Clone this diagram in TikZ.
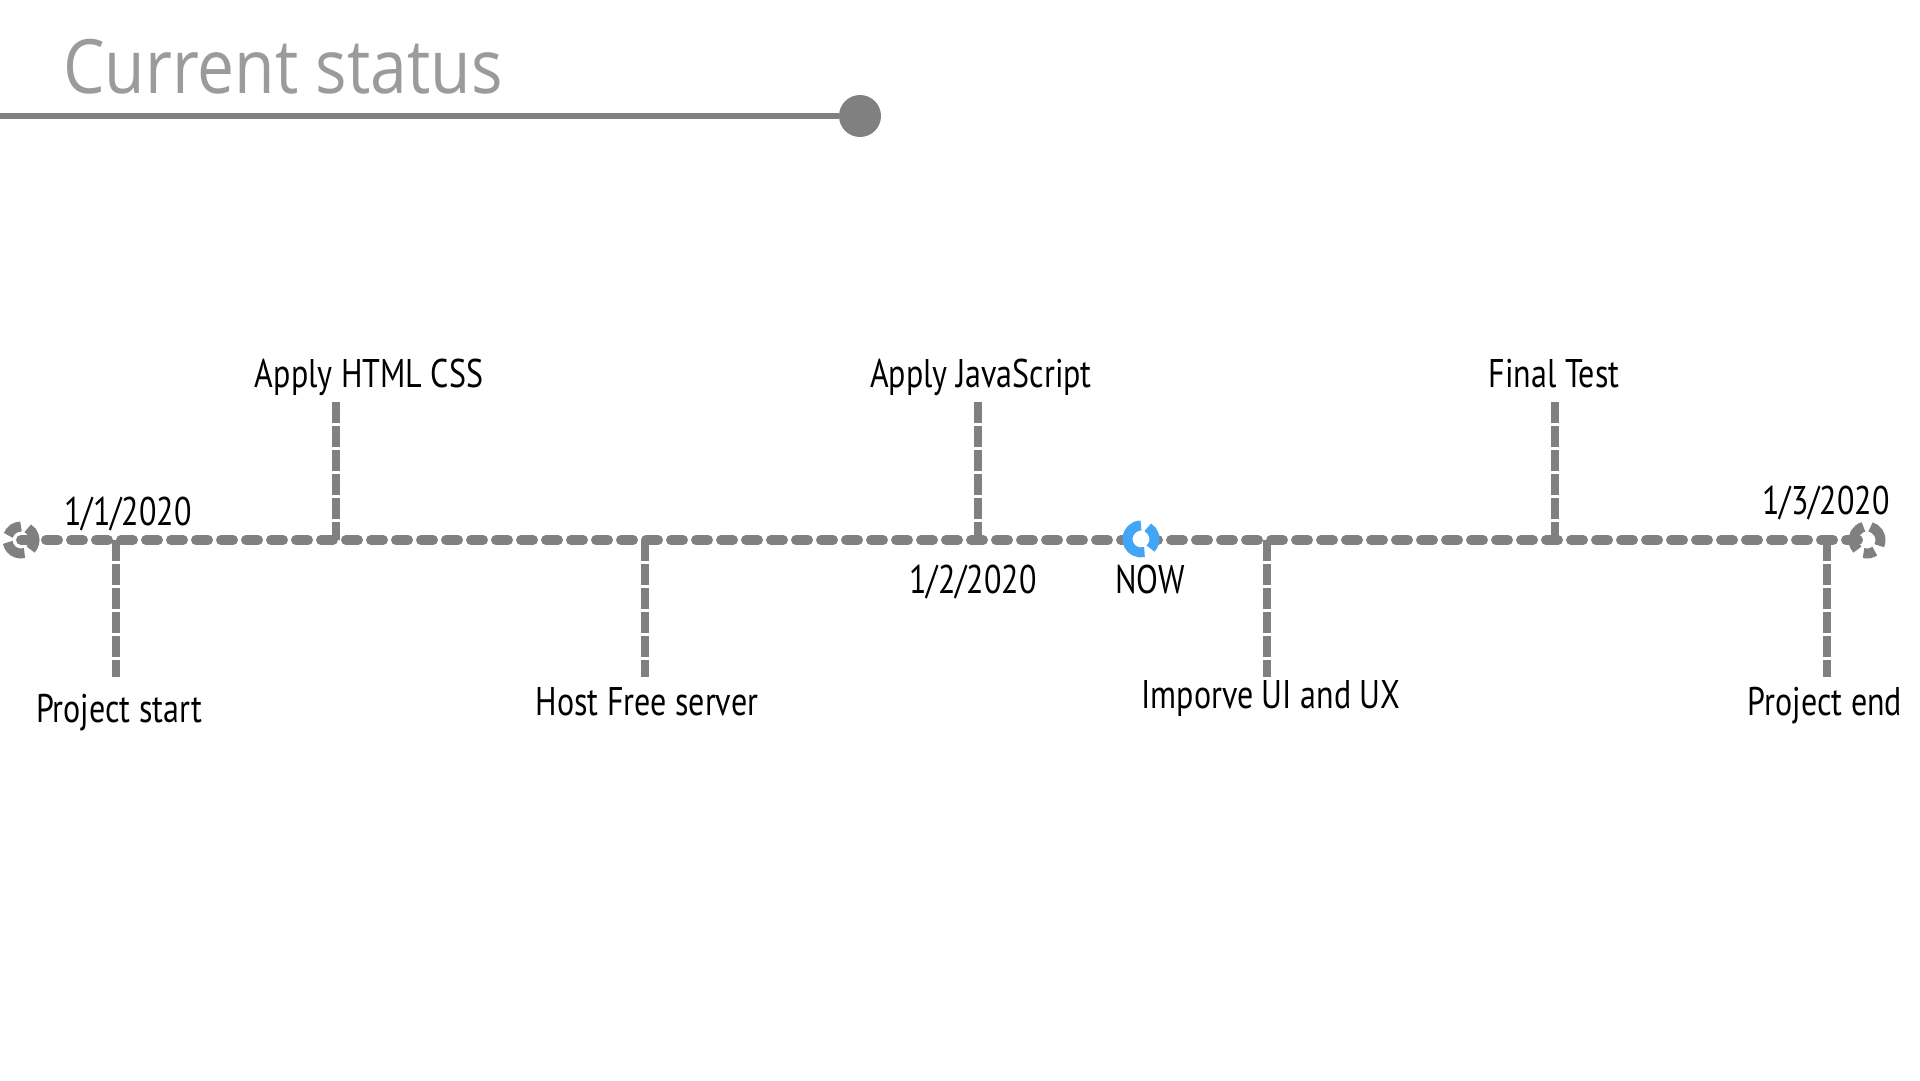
\documentclass[tikz,border=0pt]{standalone}
\usepackage{fontspec}
\setmainfont[FakeStretch=0.8]{PT Sans}
\newfontfamily\titlefont[FakeStretch=0.88]{Open Sans}
\usetikzlibrary{backgrounds}
\definecolor{tlgray}{HTML}{808080}
\definecolor{titlegray}{HTML}{9B9B9B}
\definecolor{nowblue}{HTML}{42A5F5}

\begin{document}
\begin{tikzpicture}[x=1pt,y=-1pt,
  lbl/.style={anchor=base,inner sep=0pt,font=\fontsize{40}{48}\selectfont},
  ring/.style={circle,minimum size=27pt,inner sep=0pt},
  ringarc/.style={tlgray,line width=10pt},
  tline/.style={draw=tlgray,line width=10pt,line cap=round,dash pattern=on 12pt off 13pt},
  stem/.style={draw=tlgray,line width=8pt,dash pattern=on 21pt off 3pt}]
\useasboundingbox (0,0) rectangle (1920,1080);

% Title
\node[anchor=base west,inner sep=0pt,text=titlegray,
  font=\titlefont\fontsize{75}{90}\selectfont] (title) at (63,93) {Current status};
\node[circle,fill=tlgray,minimum size=42pt,inner sep=0pt] (dot) at (860,116) {};
\coordinate (tstart) at (0,116);
\draw[tlgray,line width=6.5pt] (tstart) -- (dot);

% Timeline
\node[ring] (start) at (21,540) {};
\node[ring] (finish) at (1867,540) {};
\node[ring,fill=white] (now) at (1141,539) {};
\begin{scope}[on background layer]
\draw[tline] (start.center) -- (finish.center);
\end{scope}

% Rings
\foreach \a/\b in {90/160,190/285,315/420}
  \draw[ringarc] (start.center) ++(-\a:13.5) arc[start angle=-\a,end angle=-\b,radius=13.5];
\foreach \a/\b in {105/225,255/305,335/435}
  \draw[ringarc] (finish.center) ++(-\a:13.5) arc[start angle=-\a,end angle=-\b,radius=13.5];
\foreach \a/\b in {90/285,315/420}
  \draw[ringarc,nowblue] (now.center) ++(-\a:13.5) arc[start angle=-\a,end angle=-\b,radius=13.5];

% Stems
\coordinate (s1) at (116,540); \coordinate (s1e) at (116,677);
\coordinate (s2) at (336,402); \coordinate (s2e) at (336,540);
\coordinate (s3) at (645,540); \coordinate (s3e) at (645,677);
\coordinate (s4) at (978,402); \coordinate (s4e) at (978,540);
\coordinate (s5) at (1267,540); \coordinate (s5e) at (1267,677);
\coordinate (s6) at (1555,402); \coordinate (s6e) at (1555,540);
\coordinate (s7) at (1827,540); \coordinate (s7e) at (1827,677);
\draw[stem] (s1) -- (s1e);
\draw[stem] (s2) -- (s2e);
\draw[stem] (s3) -- (s3e);
\draw[stem] (s4) -- (s4e);
\draw[stem] (s5) -- (s5e);
\draw[stem] (s6) -- (s6e);
\draw[stem] (s7) -- (s7e);

% Labels
\node[lbl] (pstart) at (119,722) {Project start};
\node[lbl] (html) at (369,387) {Apply HTML CSS};
\node[lbl] (host) at (647,715) {Host Free server};
\node[lbl] (js) at (981,387) {Apply JavaScript};
\node[lbl] (uiux) at (1271,708) {Imporve UI and UX};
\node[lbl] (ftest) at (1554,387) {Final Test};
\node[lbl] (pend) at (1825,715) {Project end};

% Dates
\node[lbl] (d1) at (128,525) {1/1/2020};
\node[lbl] (d2) at (973,593) {1/2/2020};
\node[lbl] (nowlbl) at (1150,593) {NOW};
\node[lbl] (d3) at (1826,514) {1/3/2020};
\end{tikzpicture}
\end{document}
